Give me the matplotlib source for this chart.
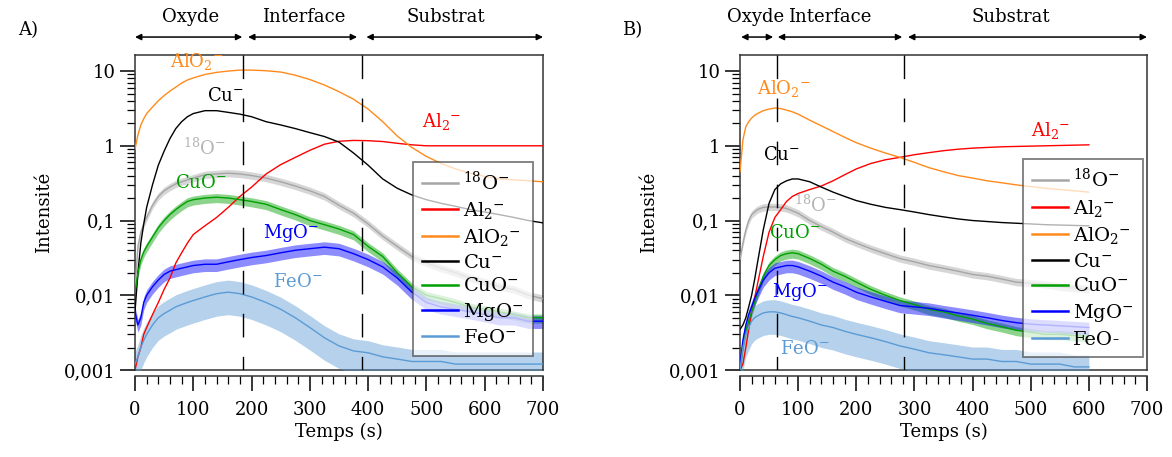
import numpy as np
import matplotlib
matplotlib.use("Agg")
import matplotlib.pyplot as plt
from matplotlib.ticker import FixedLocator, FixedFormatter, LogLocator, NullFormatter, MultipleLocator

plt.rcParams['font.family'] = ['DejaVu Serif']
plt.rcParams['mathtext.fontset'] = 'dejavuserif'

# ---------------- Data: panel A ----------------
tA = [0, 5, 10, 15, 20, 30, 40, 50, 60, 70, 80, 90, 100, 120, 140, 160, 180, 200, 225, 250,
      275, 300, 325, 350, 375, 400, 425, 450, 475, 500, 525, 550, 575, 600, 625, 650, 675, 700]
A_O18 = [0.012, 0.045, 0.07, 0.09, 0.11, 0.16, 0.21, 0.25, 0.28, 0.31, 0.33, 0.35, 0.37, 0.41, 0.42, 0.43, 0.42, 0.40, 0.37, 0.33,
         0.29, 0.25, 0.21, 0.16, 0.125, 0.09, 0.062, 0.045, 0.033, 0.027, 0.023, 0.020, 0.017, 0.015, 0.013, 0.012, 0.010, 0.009]
A_Al2 = [0.001, 0.0015, 0.002, 0.003, 0.0037, 0.0055, 0.008, 0.012, 0.017, 0.027, 0.037, 0.05, 0.065, 0.085, 0.11, 0.15, 0.21, 0.28, 0.42, 0.56,
         0.70, 0.87, 1.05, 1.15, 1.18, 1.17, 1.14, 1.08, 1.03, 1.0, 1.0, 1.0, 1.0, 1.0, 1.0, 1.0, 1.0, 1.0]
A_AlO2 = [0.9, 1.4, 1.9, 2.3, 2.7, 3.3, 4.0, 4.7, 5.4, 6.1, 6.9, 7.6, 8.1, 9.0, 9.6, 10.0, 10.3, 10.3, 10.1, 9.7,
          8.8, 7.7, 6.5, 5.3, 4.2, 3.1, 2.1, 1.35, 0.95, 0.72, 0.58, 0.49, 0.43, 0.39, 0.36, 0.35, 0.34, 0.33]
A_Cu = [0.006, 0.02, 0.05, 0.09, 0.15, 0.30, 0.55, 0.85, 1.25, 1.7, 2.1, 2.45, 2.7, 2.95, 2.95, 2.8, 2.65, 2.45, 2.1, 1.9,
        1.7, 1.5, 1.33, 1.12, 0.8, 0.55, 0.36, 0.27, 0.22, 0.19, 0.17, 0.155, 0.14, 0.13, 0.12, 0.11, 0.10, 0.093]
A_CuO = [0.011, 0.02, 0.03, 0.038, 0.045, 0.06, 0.08, 0.10, 0.12, 0.14, 0.16, 0.18, 0.19, 0.20, 0.205, 0.20, 0.19, 0.18, 0.165, 0.14,
         0.12, 0.10, 0.088, 0.077, 0.065, 0.045, 0.033, 0.020, 0.013, 0.010, 0.009, 0.008, 0.007, 0.0065, 0.006, 0.0055, 0.005, 0.005]
A_MgO = [0.006, 0.004, 0.005, 0.008, 0.010, 0.013, 0.016, 0.019, 0.021, 0.022, 0.023, 0.024, 0.025, 0.026, 0.026, 0.028, 0.030, 0.032, 0.034, 0.037,
         0.040, 0.042, 0.044, 0.042, 0.036, 0.030, 0.024, 0.017, 0.011, 0.008, 0.007, 0.0065, 0.006, 0.0055, 0.005, 0.005, 0.0045, 0.0045]
A_FeO = [0.0012, 0.0015, 0.002, 0.0025, 0.003, 0.004, 0.005, 0.0057, 0.0063, 0.007, 0.0075, 0.008, 0.0085, 0.0095, 0.0105, 0.011, 0.0105, 0.0095, 0.008, 0.0065,
         0.005, 0.0037, 0.0027, 0.0021, 0.0018, 0.0017, 0.0015, 0.0014, 0.0013, 0.0013, 0.0013, 0.0012, 0.0012, 0.0012, 0.0012, 0.0012, 0.0012, 0.0012]

# ---------------- Data: panel B ----------------
tB = [0, 5, 10, 15, 20, 25, 30, 40, 50, 60, 70, 80, 90, 100, 120, 140, 160, 180, 200, 225,
      250, 275, 300, 325, 350, 375, 400, 425, 450, 475, 500, 525, 550, 575, 600]
B_O18 = [0.03, 0.05, 0.075, 0.10, 0.12, 0.13, 0.14, 0.15, 0.152, 0.152, 0.15, 0.145, 0.135, 0.125, 0.10, 0.083, 0.07, 0.058, 0.05, 0.042,
         0.036, 0.031, 0.028, 0.025, 0.023, 0.021, 0.019, 0.018, 0.0165, 0.015, 0.0145, 0.014, 0.013, 0.0125, 0.012]
B_Al2 = [0.001, 0.0012, 0.002, 0.0035, 0.006, 0.009, 0.014, 0.033, 0.07, 0.11, 0.14, 0.18, 0.21, 0.23, 0.26, 0.29, 0.34, 0.41, 0.49, 0.58,
         0.65, 0.70, 0.76, 0.81, 0.86, 0.90, 0.93, 0.95, 0.97, 0.98, 0.99, 1.0, 1.01, 1.02, 1.03]
B_AlO2 = [0.45, 1.2, 1.8, 2.1, 2.35, 2.55, 2.7, 2.95, 3.1, 3.2, 3.15, 3.0, 2.85, 2.65, 2.2, 1.85, 1.55, 1.3, 1.1, 0.93,
          0.80, 0.70, 0.60, 0.51, 0.45, 0.40, 0.37, 0.34, 0.32, 0.30, 0.285, 0.27, 0.26, 0.25, 0.24]
B_Cu = [0.0035, 0.004, 0.005, 0.007, 0.010, 0.016, 0.027, 0.075, 0.17, 0.26, 0.31, 0.34, 0.36, 0.36, 0.33, 0.28, 0.24, 0.21, 0.185, 0.165,
        0.15, 0.14, 0.13, 0.12, 0.112, 0.105, 0.10, 0.097, 0.094, 0.092, 0.09, 0.088, 0.087, 0.086, 0.085]
B_CuO = [0.001, 0.002, 0.0033, 0.0045, 0.006, 0.008, 0.011, 0.018, 0.025, 0.030, 0.034, 0.036, 0.037, 0.036, 0.031, 0.026, 0.021, 0.018, 0.015, 0.012,
         0.010, 0.0085, 0.0075, 0.0065, 0.006, 0.0053, 0.0048, 0.0042, 0.0038, 0.0034, 0.0032, 0.003, 0.003, 0.0029, 0.0028]
B_MgO = [0.0012, 0.0025, 0.004, 0.0055, 0.007, 0.009, 0.011, 0.016, 0.020, 0.023, 0.024, 0.025, 0.025, 0.024, 0.021, 0.018, 0.015, 0.013, 0.011, 0.0095,
         0.0083, 0.0073, 0.007, 0.0067, 0.0062, 0.0058, 0.0054, 0.005, 0.0046, 0.0043, 0.0041, 0.004, 0.0039, 0.0038, 0.0037]
B_FeO = [0.001, 0.002, 0.003, 0.0037, 0.0045, 0.005, 0.0053, 0.0058, 0.006, 0.006, 0.0058, 0.0055, 0.0052, 0.005, 0.0045, 0.004, 0.0037, 0.0033, 0.003, 0.0027,
         0.0024, 0.0021, 0.0019, 0.0017, 0.0016, 0.0015, 0.0014, 0.0014, 0.0013, 0.0013, 0.0012, 0.0012, 0.0012, 0.0011, 0.0011]

# noise spread (lower, upper factors) for each species
spread = {'O18': (1.12, 1.12), 'Al2': (1.0, 1.0), 'AlO2': (1.0, 1.0), 'Cu': (1.0, 1.0),
          'CuO': (1.18, 1.12), 'MgO': (1.25, 1.18), 'FeO': (2.0, 1.45)}

species = ['O18', 'Al2', 'AlO2', 'Cu', 'CuO', 'MgO', 'FeO']
colors = {'O18': '#a6a6a6', 'Al2': '#ff0000', 'AlO2': '#ff8a1c', 'Cu': '#000000',
          'CuO': '#00a000', 'MgO': '#0000ff', 'FeO': '#5b9bd5'}
leg_labels_A = [r'$^{18}$O$^{-}$', r'Al$_2$$^{-}$', r'AlO$_2$$^{-}$', r'Cu$^{-}$', r'CuO$^{-}$', r'MgO$^{-}$', r'FeO$^{-}$']
leg_labels_B = [r'$^{18}$O$^{-}$', r'Al$_2$$^{-}$', r'AlO$_2$$^{-}$', r'Cu$^{-}$', r'CuO$^{-}$', r'MgO$^{-}$', 'FeO-']

dataA = dict(zip(species, [A_O18, A_Al2, A_AlO2, A_Cu, A_CuO, A_MgO, A_FeO]))
dataB = dict(zip(species, [B_O18, B_Al2, B_AlO2, B_Cu, B_CuO, B_MgO, B_FeO]))

# region boundaries (s)
boundsA = [186, 389]
boundsB = [63, 282]
regionsA = [('Oxyde', 0, 184, 95), ('Interface', 194, 381, 289), ('Substrat', 397, 700, 534)]
regionsB = [('Oxyde', 2, 57, 26), ('Interface', 65, 279, 155), ('Substrat', 289, 700, 465)]

# in-plot labels (text, species, t, value)
labelsA = [(r'AlO$_2$$^{-}$', 'AlO2', 107, 13.5), (r'Cu$^{-}$', 'Cu', 155, 4.6), (r'$^{18}$O$^{-}$', 'O18', 120, 0.93),
           (r'CuO$^{-}$', 'CuO', 112, 0.32), (r'MgO$^{-}$', 'MgO', 267, 0.068), (r'FeO$^{-}$', 'FeO', 279, 0.015),
           (r'Al$_2$$^{-}$', 'Al2', 525, 2.1)]
labelsB = [(r'AlO$_2$$^{-}$', 'AlO2', 76, 5.9), (r'Cu$^{-}$', 'Cu', 72, 0.75), (r'$^{18}$O$^{-}$', 'O18', 129, 0.16),
           (r'CuO$^{-}$', 'CuO', 95, 0.068), (r'MgO$^{-}$', 'MgO', 103, 0.011), (r'FeO$^{-}$', 'FeO', 112, 0.0019),
           (r'Al$_2$$^{-}$', 'Al2', 534, 1.62)]
label_colors = dict(colors)
label_colors['O18'] = '#b4b4b4'

ytick_vals = [0.001, 0.01, 0.1, 1, 10]
ytick_labels = ['0,001', '0,01', '0,1', '1', '10']

fig = plt.figure(figsize=(11.72, 4.57), dpi=100)
axA = fig.add_axes([135/1172, 87/457, 408/1172, 315/457])
axB = fig.add_axes([740/1172, 87/457, 407/1172, 315/457])


def draw(ax, t, data, labels, leg_labels, bounds, regions, leg_anchor, lspace):
    t = np.asarray(t, dtype=float)
    handles = []
    for sp in species:
        v = np.asarray(data[sp], dtype=float)
        lo, hi = spread[sp]
        if hi > 1.0:
            ax.fill_between(t, v / lo, v * hi, color=colors[sp], alpha=0.45, lw=0, zorder=2)
        h, = ax.plot(t, v, color=colors[sp], lw=1.0, zorder=3)
        handles.append(h)
    ax.set_yscale('log')
    ax.set_ylim(0.001, 16.4)
    ax.set_xlim(0, 700)
    ax.yaxis.set_major_locator(FixedLocator(ytick_vals))
    ax.yaxis.set_major_formatter(FixedFormatter(ytick_labels))
    ax.yaxis.set_minor_locator(LogLocator(base=10, subs=np.arange(2, 10)))
    ax.yaxis.set_minor_formatter(NullFormatter())
    ax.xaxis.set_major_locator(MultipleLocator(100))
    ax.xaxis.set_minor_locator(MultipleLocator(20))
    ax.tick_params(axis='y', which='major', length=11, width=1.1, direction='out', labelsize=13, pad=3)
    ax.tick_params(axis='y', which='minor', length=6, width=0.9, direction='out')
    ax.tick_params(axis='x', which='major', length=11, width=1.1, direction='out', labelsize=13, pad=7)
    ax.tick_params(axis='x', which='minor', length=6, width=0.9, direction='out')
    ax.spines['bottom'].set_position(('outward', 4))
    for s in ax.spines.values():
        s.set_linewidth(1.1)
        s.set_color('#333333')
    # box bottom edge
    ax.axhline(0.001, color='#333333', lw=1.1, zorder=1, clip_on=False)
    for b in bounds:
        ln, = ax.plot([b, b], [1, 0], transform=ax.get_xaxis_transform(), color='black', lw=1.0, zorder=4)
        ln.set_dashes([17, 14])
    for (name, t0, t1, tc) in regions:
        ax.annotate('', xy=(t1, 1.057), xytext=(t0, 1.057), xycoords=('data', 'axes fraction'),
                    textcoords=('data', 'axes fraction'), annotation_clip=False,
                    arrowprops=dict(arrowstyle='<|-|>', color='black', lw=1.1, mutation_scale=9,
                                    shrinkA=0, shrinkB=0))
        ax.text(tc, 1.12, name, transform=ax.get_xaxis_transform(), ha='center', va='center', fontsize=13)
    for (txt, sp, tx, vy) in labels:
        ax.text(tx, vy, txt, color=label_colors[sp], ha='center', va='center', fontsize=13, zorder=5)
    ax.set_xlabel('Temps (s)', fontsize=13, labelpad=3)
    leg = ax.legend(handles, leg_labels, loc='upper left', bbox_to_anchor=leg_anchor, borderaxespad=0,
                    fontsize=14, handlelength=1.85, handletextpad=0.3, labelspacing=lspace,
                    borderpad=0.45, fancybox=False, framealpha=0.7, edgecolor='#444444')
    leg.get_frame().set_linewidth(1.3)
    for lh in leg.get_lines():
        lh.set_linewidth(1.8)
    leg.set_zorder(6)


draw(axA, tA, dataA, labelsA, leg_labels_A, boundsA, regionsA, (0.681, 0.660), 0.3)
draw(axB, tB, dataB, labelsB, leg_labels_B, boundsB, regionsB, (0.695, 0.670), 0.34)
axA.set_ylabel('Intensité', fontsize=13, labelpad=8)
axB.set_ylabel('Intensité', fontsize=13, labelpad=8)

fig.text(18/1172, 1 - 30/457, 'A)', fontsize=13, ha='left', va='center')
fig.text(622/1172, 1 - 30/457, 'B)', fontsize=13, ha='left', va='center')

fig.savefig('out.png', dpi=100)
